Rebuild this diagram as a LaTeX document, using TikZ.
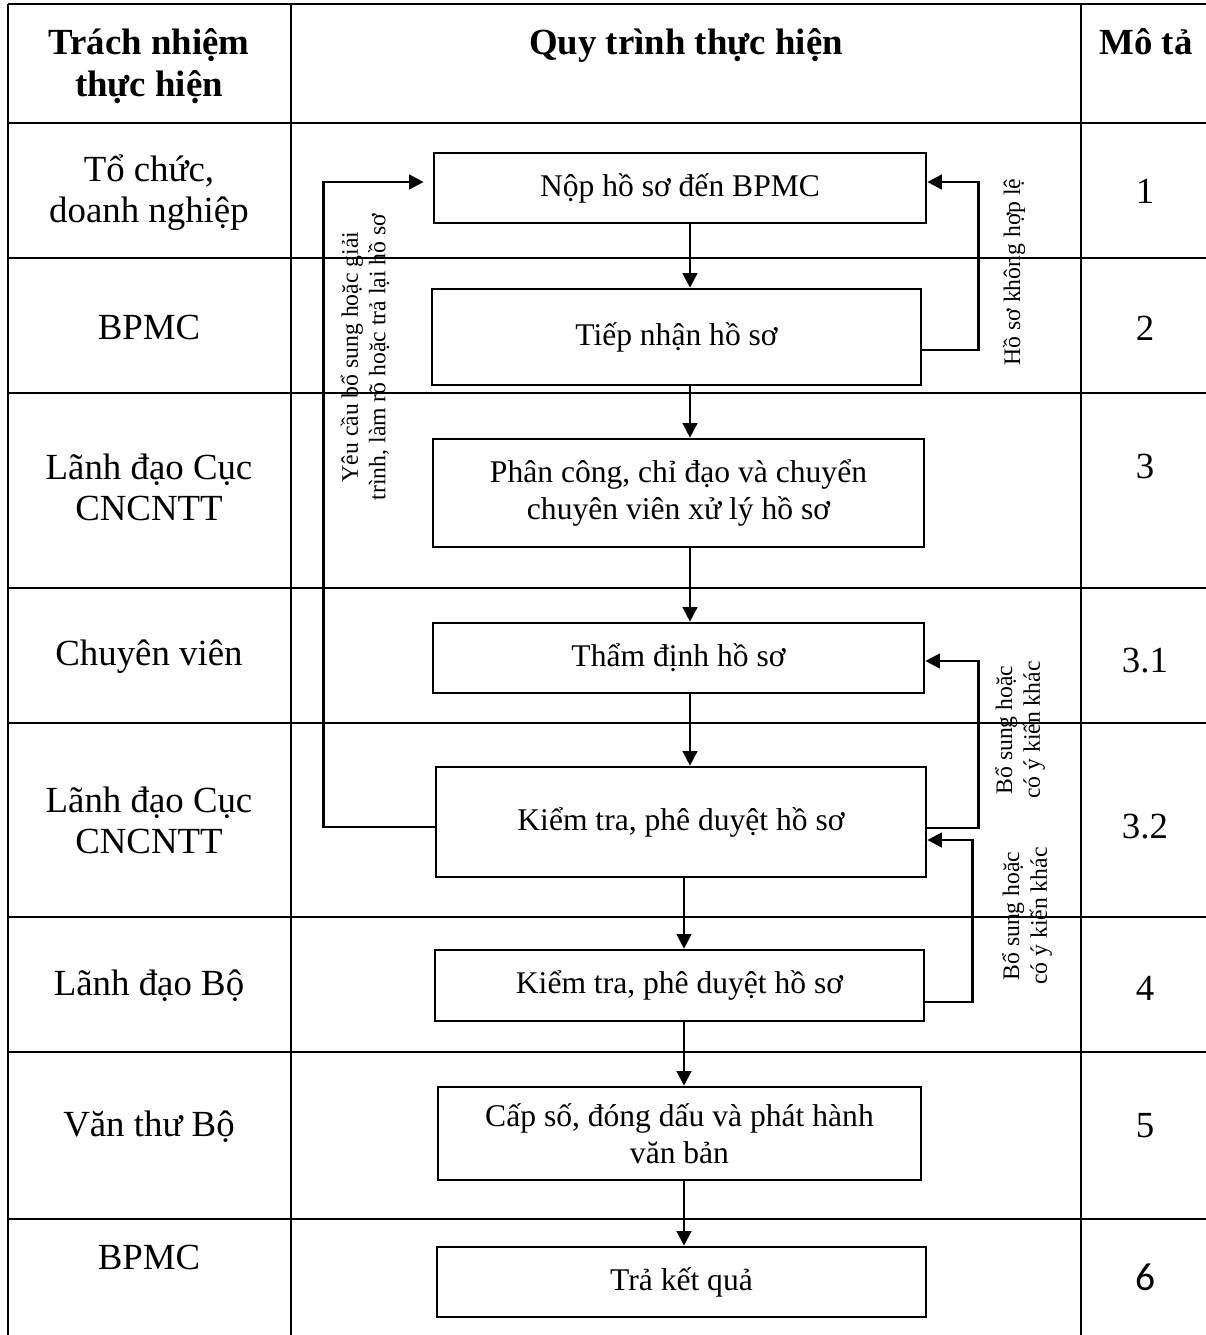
\documentclass[tikz,border=0pt]{standalone}
\usepackage{fontspec}
\setmainfont{Liberation Serif}
\newfontfamily\numsans{Carlito}
\usetikzlibrary{arrows.meta,calc}
\begin{document}
\def\u{0.38pt}
\begin{tikzpicture}[x=0.38pt,y=-0.38pt,
  grid/.style={line width=1.1pt},
  box/.style={draw, line width=1pt, inner sep=0pt, align=center, font=\fontsize{12}{14}\selectfont},
  lane/.style={align=center, inner sep=0pt, font=\fontsize{14}{15.6}\selectfont},
  head/.style={align=center, inner sep=0pt, font=\fontsize{14}{16}\selectfont\bfseries},
  num/.style={inner sep=0pt, anchor=base, font=\fontsize{14}{16}\selectfont},
  arr/.style={line width=0.95pt, -{Triangle[length=5.5pt,width=5.5pt]}},
  side/.style={rotate=90, align=center, inner sep=0pt, font=\fontsize{9}{10.5}\selectfont}
]
\useasboundingbox (0,0) rectangle (1206,1335);
% table grid
\foreach \yy in {4,123,258,393,588,723,917,1052,1219}
  \draw[grid] (8,\yy) -- (1206,\yy);
\foreach \xx in {8,291,1081}
  \draw[grid] (\xx,4) -- (\xx,1335);
% header
\node[head] (h1) at (149,66) {Trách nhiệm\\thực hiện};
\node[head, anchor=base] (h2) at (686,55) {Quy trình thực hiện};
\node[head, anchor=base] (h3) at (1146,55) {Mô tả};
% lanes
\node[lane] (r1) at (149,193) {Tổ chức,\\doanh nghiệp};
\node[lane] (r2) at (149,327) {BPMC};
\node[lane] (r3) at (149,487) {Lãnh đạo Cục\\CNCNTT};
\node[lane] (r4) at (149,657) {Chuyên viên};
\node[lane] (r5) at (149,820) {Lãnh đạo Cục\\CNCNTT};
\node[lane] (r6) at (149,986) {Lãnh đạo Bộ};
\node[lane] (r7) at (149,1127) {Văn thư Bộ};
\node[lane] (r8) at (149,1257) {BPMC};
% numbers
\node[num] (n1) at (1145,204) {1};
\node[num] (n2) at (1145,340) {2};
\node[num] (n3) at (1145,478) {3};
\node[num] (n31) at (1145,672) {3.1};
\node[num] (n32) at (1145,838) {3.2};
\node[num] (n4) at (1145,1000) {4};
\node[num] (n5) at (1145,1137) {5};
\node[num, font=\numsans\fontsize{15}{17}\selectfont] (n6) at (1145,1290) {6};
% process boxes
\node[box, minimum width=492*\u, minimum height=70*\u] (b1) at (680,188) {Nộp hồ sơ đến BPMC};
\node[box, minimum width=489*\u, minimum height=96*\u] (b2) at (676.5,337) {Tiếp nhận hồ sơ};
\node[box, minimum width=491*\u, minimum height=108*\u] (b3) at (678.5,493) {Phân công, chỉ đạo và chuyển\\chuyên viên xử lý hồ sơ};
\node[box, minimum width=491*\u, minimum height=70*\u] (b4) at (678.5,658) {Thẩm định hồ sơ};
\node[box, minimum width=490*\u, minimum height=110*\u] (b5) at (681,822) {Kiểm tra, phê duyệt hồ sơ};
\node[box, minimum width=489*\u, minimum height=71*\u] (b6) at (679.5,985.5) {Kiểm tra, phê duyệt hồ sơ};
\node[box, minimum width=483*\u, minimum height=93*\u] (b7) at (679.5,1133.5) {Cấp số, đóng dấu và phát hành\\văn bản};
\node[box, minimum width=489*\u, minimum height=70*\u] (b8) at (681.5,1282) {Trả kết quả};
% flow arrows
\coordinate (ax) at (690,0);
\coordinate (bx) at (684,0);
\draw[arr] (b1.south -| ax) -- (b2.north -| ax);
\draw[arr] (b2.south -| ax) -- (b3.north -| ax);
\draw[arr] (b3.south -| ax) -- (b4.north -| ax);
\draw[arr] (b4.south -| ax) -- (b5.north -| ax);
\draw[arr] (b5.south -| bx) -- (b6.north -| bx);
\draw[arr] (b6.south -| bx) -- (b7.north -| bx);
\draw[arr] (b7.south -| bx) -- (b8.north -| bx);
% loops
\draw[arr] ($(b5.west)+(0,5)$) -| ($(b1.west)+(-109,-6)$) -- ($(b1.west)+(-9,-6)$);
\draw[arr] ($(b2.east)+(0,13)$) -| ($(b1.east)+(51,-6)$) -- ($(b1.east)+(0,-6)$);
\draw[arr] ($(b5.east)+(0,6)$) -| ($(b4.east)+(53,3)$) -- ($(b4.east)+(0,3)$);
\draw[arr] ($(b6.east)+(0,16.5)$) -| ($(b5.east)+(45,18)$) -- ($(b5.east)+(0,18)$);
% side labels
\node[side] (lL) at (365,357) {Yêu cầu bổ sung hoặc giải\\trình, làm rõ hoặc trả lại hồ sơ};
\node[side] (lA) at (1014,272) {Hồ sơ không hợp lệ};
\node[side] (lB) at (1020,730) {Bổ sung hoặc\\có ý kiến khác};
\node[side] (lC) at (1027,916) {Bổ sung hoặc\\có ý kiến khác};
\end{tikzpicture}
\end{document}
